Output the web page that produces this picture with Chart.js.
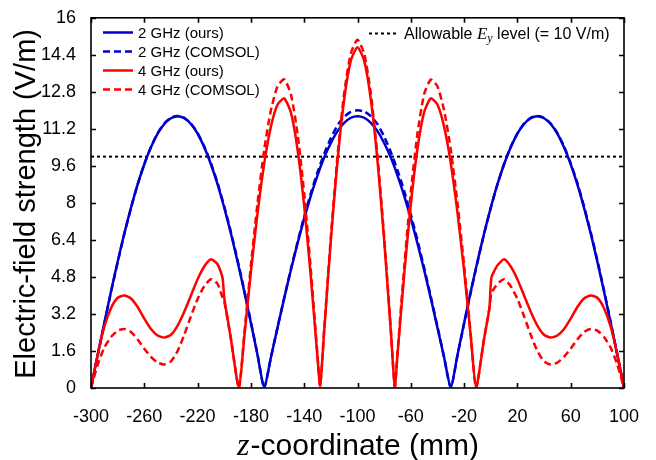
<!DOCTYPE html>
<html>
<head>
<meta charset="utf-8">
<script src="https://cdn.jsdelivr.net/npm/chart.js@4.4.1/dist/chart.umd.min.js"></script>
<style>
  html, body { margin: 0; padding: 0; background: #fff; }
  canvas { display: block; }
</style>
</head>
<body>
<canvas id="myChart" width="656" height="460"></canvas>
<script>
// axis ticks
const xTicks = [-300, -260, -220, -180, -140, -100, -60, -20, 20, 60, 100];
const yTicks = [0, 1.6, 3.2, 4.8, 6.4, 8, 9.6, 11.2, 12.8, 14.4, 16];
const yTickLabels = ["0", "1.6", "3.2", "4.8", "6.4", "8", "9.6", "11.2", "12.8", "14.4", "16"];

// 2 GHz (z in mm, E in V/m)
const zBlue = [
  -300, -295, -290, -285, -280, -275, -270, -265, -260, -255, -250, -245, -240, -235,
  -230, -225, -220, -215, -210, -205, -200, -195, -190, -185, -180, -175, -170,
  -165, -160, -155, -150, -145, -140, -135, -130, -125, -120, -115, -110, -105, -100,
  -95, -90, -85, -80, -75, -70, -65, -60, -55, -50, -45, -40, -35, -30,
  -25, -20, -15, -10, -5, 0, 5, 10, 15, 20, 25, 30, 35,
  40, 45, 50, 55, 60, 65, 70, 75, 80, 85, 90, 95, 100
];
const blueOurs = [
  0, 1.42, 2.81, 4.17, 5.46, 6.68, 7.79, 8.80, 9.67, 10.40, 10.99, 11.41, 11.66, 11.75,
  11.66, 11.41, 10.99, 10.40, 9.67, 8.80, 7.79, 6.68, 5.46, 4.17, 2.81, 1.42, 0,
  1.32, 2.61, 3.88, 5.10, 6.25, 7.33, 8.31, 9.19, 9.96, 10.59, 11.10, 11.46, 11.68, 11.75,
  11.68, 11.46, 11.10, 10.59, 9.96, 9.19, 8.31, 7.33, 6.25, 5.10, 3.88, 2.61, 1.32, 0,
  1.42, 2.81, 4.17, 5.46, 6.68, 7.79, 8.80, 9.67, 10.40, 10.99, 11.41, 11.66, 11.75,
  11.66, 11.41, 10.99, 10.40, 9.67, 8.80, 7.79, 6.68, 5.46, 4.17, 2.81, 1.42, 0
];
const blueComsol = [
  0, 1.40, 2.78, 4.14, 5.43, 6.66, 7.78, 8.80, 9.68, 10.42, 11.01, 11.43, 11.68, 11.76,
  11.68, 11.43, 11.02, 10.44, 9.72, 8.86, 7.85, 6.74, 5.52, 4.22, 2.85, 1.45, 0,
  1.32, 2.62, 3.90, 5.13, 6.30, 7.40, 8.42, 9.33, 10.12, 10.80, 11.35, 11.72, 11.93, 12.00,
  11.95, 11.75, 11.40, 10.87, 10.20, 9.42, 8.52, 7.50, 6.38, 5.20, 3.95, 2.65, 1.33, 0,
  1.40, 2.78, 4.14, 5.43, 6.66, 7.78, 8.80, 9.68, 10.42, 11.01, 11.43, 11.68, 11.76,
  11.68, 11.43, 11.02, 10.44, 9.72, 8.86, 7.85, 6.74, 5.52, 4.22, 2.85, 1.45, 0
];

// 4 GHz
const zRed = [
  -300, -295, -290, -285, -280, -275, -270, -265, -260, -255, -250, -245, -240, -235,
  -230, -225, -220, -215, -210, -205, -201.3, -200, -195, -189,
  -185, -180, -175, -170, -165, -160, -155, -150, -145, -140, -135, -130, -128,
  -125, -120, -115, -110, -105, -100, -95, -90, -85, -80, -75, -72,
  -70, -65, -60, -55, -50, -45, -40, -35, -30, -25, -20, -15, -11,
  -5, -1, 0.5, 5, 10, 15, 20, 25, 30, 35, 40, 45, 50, 55, 60, 65, 70, 75, 80, 85, 90, 95, 100
];
const redOurs = [
  0, 1.45, 2.65, 3.45, 3.90, 4.00, 3.87, 3.50, 3.00, 2.55, 2.27, 2.18, 2.30, 2.70,
  3.30, 4.00, 4.70, 5.25, 5.56, 5.35, 4.77, 3.90, 2.13, 0,
  2.18, 5.02, 7.56, 9.70, 11.29, 12.25, 12.52, 11.91, 10.31, 7.87, 4.78, 1.30, 0.10,
  2.47, 6.39, 9.82, 12.47, 14.15, 14.73, 14.15, 12.47, 9.82, 6.39, 2.47, 0.05,
  1.43, 4.88, 7.93, 10.34, 11.92, 12.52, 12.25, 11.29, 9.71, 7.59, 5.06, 2.23, 0,
  2.13, 3.45, 4.77, 5.30, 5.56, 5.25, 4.70, 4.00, 3.30, 2.70, 2.30, 2.18, 2.27, 2.55,
  3.00, 3.50, 3.87, 4.00, 3.90, 3.45, 2.65, 1.45, 0
];
const redComsol = [
  0, 1.00, 1.75, 2.20, 2.48, 2.55, 2.42, 2.10, 1.70, 1.35, 1.10, 1.02, 1.15, 1.60,
  2.30, 3.10, 3.85, 4.40, 4.70, 4.50, 3.91, 3.75, 2.13, 0,
  2.30, 5.30, 8.00, 10.30, 12.00, 13.04, 13.34, 12.70, 11.00, 8.40, 5.10, 1.40, 0.10,
  2.52, 6.53, 10.03, 12.74, 14.46, 15.05, 14.46, 12.74, 10.03, 6.53, 2.52, 0.05,
  1.50, 5.20, 8.45, 11.00, 12.70, 13.33, 13.04, 12.00, 10.30, 8.00, 5.30, 2.30, 0,
  2.13, 3.45, 4.10, 4.50, 4.70, 4.40, 3.85, 3.10, 2.30, 1.60, 1.15, 1.02, 1.10, 1.35,
  1.70, 2.10, 2.42, 2.55, 2.48, 2.20, 1.75, 1.00, 0
];

const allowableLevel = 10;

const seriesNames = ["2 GHz (ours)", "2 GHz (COMSOL)", "4 GHz (ours)", "4 GHz (COMSOL)"];
const BLUE = "#0000cc";
const RED = "#ff0000";
const DASH = [7, 4];
const DOT = [3, 3];

const pts = (zs, vs) => zs.map((z, i) => ({ x: z, y: vs[i] }));

const sansFont = '"Liberation Sans", Arial, sans-serif';
const serifFont = '"Liberation Serif", "Times New Roman", serif';

const extras = {
  id: "extras",
  afterDraw(chart) {
    const { ctx, chartArea: a, scales: { x, y } } = chart;
    ctx.save();

    // box frame + inward ticks
    ctx.strokeStyle = "#000";
    ctx.lineWidth = 1.6;
    ctx.setLineDash([]);
    ctx.strokeRect(a.left, a.top, a.right - a.left, a.bottom - a.top);
    ctx.beginPath();
    xTicks.forEach(v => {
      const px = Math.round(x.getPixelForValue(v)) + 0.5;
      ctx.moveTo(px, a.bottom); ctx.lineTo(px, a.bottom - 5);
      ctx.moveTo(px, a.top); ctx.lineTo(px, a.top + 5);
    });
    yTicks.forEach(v => {
      const py = Math.round(y.getPixelForValue(v)) + 0.5;
      ctx.moveTo(a.left, py); ctx.lineTo(a.left + 5, py);
      ctx.moveTo(a.right, py); ctx.lineTo(a.right - 5, py);
    });
    ctx.stroke();

    // legend, upper left
    const styles = [
      { c: BLUE, d: [] }, { c: BLUE, d: DASH },
      { c: RED, d: [] }, { c: RED, d: DASH }
    ];
    ctx.font = "15px " + sansFont;
    ctx.textBaseline = "middle";
    ctx.textAlign = "left";
    seriesNames.forEach((name, i) => {
      const ly = 32.5 + i * 19;
      ctx.strokeStyle = styles[i].c;
      ctx.lineWidth = 2.5;
      ctx.setLineDash(styles[i].d);
      ctx.beginPath(); ctx.moveTo(103, ly); ctx.lineTo(133, ly); ctx.stroke();
      ctx.fillStyle = "#000";
      ctx.fillText(name, 138, ly + 1);
    });

    // legend, upper right
    const ry = 33.5;
    ctx.strokeStyle = "#000";
    ctx.lineWidth = 2;
    ctx.setLineDash(DOT);
    ctx.beginPath(); ctx.moveTo(369, ry); ctx.lineTo(397, ry); ctx.stroke();
    ctx.setLineDash([]);
    let tx = 404;
    ctx.font = "16px " + sansFont;
    ctx.fillText("Allowable ", tx, ry + 1);
    tx += ctx.measureText("Allowable ").width;
    ctx.font = "italic 17px " + serifFont;
    ctx.fillText("E", tx, ry + 1);
    tx += ctx.measureText("E").width;
    ctx.font = "italic 12px " + serifFont;
    ctx.fillText("y", tx, ry + 5);
    tx += ctx.measureText("y").width;
    ctx.font = "16px " + sansFont;
    ctx.fillText(" level (= 10 V/m)", tx, ry + 1);

    // y axis title
    ctx.save();
    ctx.translate(35, (a.top + a.bottom) / 2 + 1);
    ctx.rotate(-Math.PI / 2);
    ctx.font = "29px " + sansFont;
    ctx.textAlign = "center";
    ctx.textBaseline = "alphabetic";
    ctx.fillText("Electric-field strength (V/m)", 0, 0);
    ctx.restore();

    // x axis title
    ctx.textBaseline = "alphabetic";
    ctx.font = "italic 32px " + serifFont;
    const wz = ctx.measureText("z").width;
    ctx.font = "30px " + sansFont;
    const rest = "-coordinate (mm)";
    const wr = ctx.measureText(rest).width;
    let sx = (a.left + a.right) / 2 - (wz + wr) / 2;
    ctx.font = "italic 32px " + serifFont;
    ctx.fillText("z", sx, 455);
    ctx.font = "30px " + sansFont;
    ctx.fillText(rest, sx + wz + 1, 455);

    ctx.restore();
  }
};

new Chart(document.getElementById("myChart"), {
  type: "line",
  data: {
    datasets: [
      { label: seriesNames[2], data: pts(zRed, redOurs), borderColor: RED, borderWidth: 2.5, order: 0 },
      { label: seriesNames[3], data: pts(zRed, redComsol), borderColor: RED, borderWidth: 2.5, borderDash: DASH, order: 1 },
      { label: seriesNames[0], data: pts(zBlue, blueOurs), borderColor: BLUE, borderWidth: 2.5, order: 2 },
      { label: seriesNames[1], data: pts(zBlue, blueComsol), borderColor: BLUE, borderWidth: 2.5, borderDash: DASH, order: 3 },
      { label: "Allowable level", data: [{ x: -300, y: allowableLevel }, { x: 100, y: allowableLevel }],
        borderColor: "#000", borderWidth: 2, borderDash: DOT, order: 4, tension: 0 }
    ]
  },
  options: {
    responsive: false,
    animation: false,
    events: [],
    layout: { padding: { top: 15, right: 32, left: 0, bottom: 0 } },
    elements: { point: { radius: 0 }, line: { tension: 0.2, fill: false, borderJoinStyle: "round" } },
    plugins: { legend: { display: false }, tooltip: { enabled: false } },
    scales: {
      x: {
        type: "linear",
        min: -300, max: 100,
        grid: { display: false },
        border: { display: false },
        afterBuildTicks: s => { s.ticks = xTicks.map(v => ({ value: v })); },
        afterFit: s => { s.height = 72; },
        ticks: {
          autoSkip: false, maxRotation: 0, padding: 10,
          color: "#000", font: { family: sansFont, size: 18 },
          callback: v => String(v)
        }
      },
      y: {
        min: 0, max: 16,
        grid: { display: false },
        border: { display: false },
        afterBuildTicks: s => { s.ticks = yTicks.map(v => ({ value: v })); },
        afterFit: s => { s.width = 91; },
        ticks: {
          autoSkip: false, padding: 7,
          color: "#000", font: { family: sansFont, size: 18 },
          callback: (v, i) => yTickLabels[i]
        }
      }
    }
  },
  plugins: [extras]
});
</script>
</body>
</html>
